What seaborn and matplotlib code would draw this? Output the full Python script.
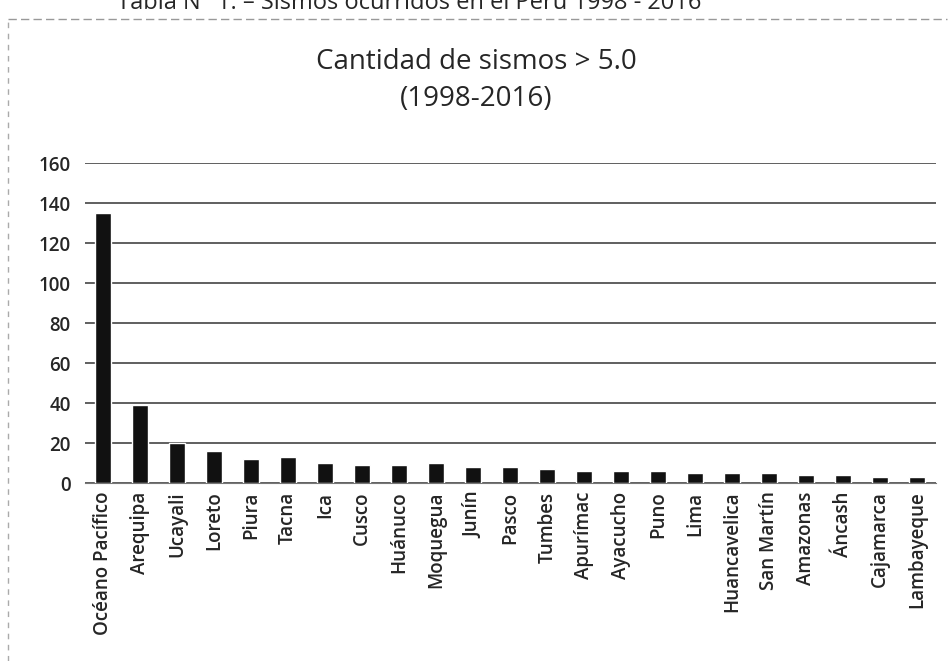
import matplotlib
matplotlib.use("Agg")
import matplotlib.pyplot as plt
import seaborn as sns
import pandas as pd

# data
regiones = ["Océano Pacífico", "Arequipa", "Ucayali", "Loreto", "Piura", "Tacna",
            "Ica", "Cusco", "Huánuco", "Moquegua", "Junín", "Pasco", "Tumbes",
            "Apurímac", "Ayacucho", "Puno", "Lima", "Huancavelica", "San Martín",
            "Amazonas", "Áncash", "Cajamarca", "Lambayeque"]
sismos = [135, 39, 20, 16, 12, 13, 10, 9, 9, 10, 8, 8, 7, 6, 6, 6, 5, 5, 5, 4, 4, 3, 3]
y_ticks = [0, 20, 40, 60, 80, 100, 120, 140, 160]

df = pd.DataFrame({"region": regiones, "sismos": sismos})

sns.set_style("white")
plt.rcParams['font.family'] = ['Open Sans', 'DejaVu Sans']

fig = plt.figure(figsize=(9.52, 6.61), dpi=100)
ax = fig.add_axes([0.089, 0.269, 0.894, 0.484])

sns.barplot(data=df, x="region", y="sismos", color="#111111", width=0.43,
            saturation=1, ax=ax, zorder=3)

ax.set_ylim(0, 160)
ax.set_yticks(y_ticks)
ax.set_yticklabels([str(t) for t in y_ticks], fontsize=13.5, fontweight="semibold")
ax.yaxis.grid(True, color="#444444", linewidth=1.2, zorder=0)
ax.tick_params(axis="both", length=0)
ax.tick_params(axis="y", pad=10)
ax.set_xticks(range(len(regiones)))
ax.set_xticklabels(regiones, rotation=90, fontsize=13.5, fontweight="semibold")
ax.tick_params(axis="x", pad=6)
ax.set_xlabel("")
ax.set_ylabel("")
for s in ["top", "right", "left"]:
    ax.spines[s].set_visible(False)
ax.spines["bottom"].set_color("#777777")

fig.text(0.5, 0.878, "Cantidad de sismos > 5.0\n(1998-2016)", ha="center", va="center",
         fontsize=20, linespacing=1.45)
# header line of the scanned page, cut at the top edge as in the scan
fig.text(0.43, 0.996, "Tabla N° 1. – Sismos ocurridos en el Perú 1998 - 2016",
         ha="center", va="center", fontsize=17)

# faint frame of the chart object
fig.add_artist(plt.Line2D([0.008, 0.995], [0.972, 0.972], color="#999999",
                          linewidth=1, linestyle=(0, (6, 3))))
fig.add_artist(plt.Line2D([0.008, 0.008], [0.0, 0.972], color="#aaaaaa",
                          linewidth=1, linestyle=(0, (4, 4))))

fig.savefig("out.png", dpi=100)
